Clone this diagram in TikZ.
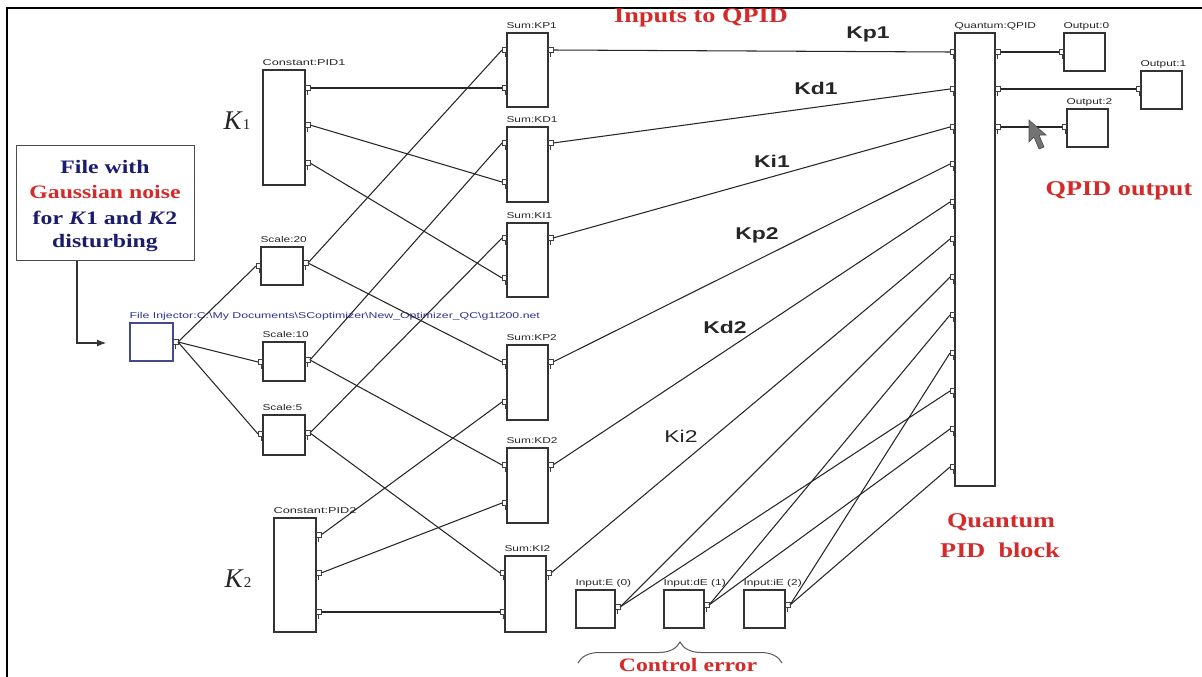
\documentclass[tikz,border=0pt]{standalone}
\usepackage{fontspec}
\setmainfont{Liberation Serif}
\setsansfont{Liberation Sans}
\usetikzlibrary{fit,decorations.pathreplacing,arrows.meta}
\definecolor{redtxt}{HTML}{D42A2A}
\definecolor{navytxt}{HTML}{1C1C6E}
\definecolor{injblue}{HTML}{2B3590}
\newcommand\sx[2][1.3]{\scalebox{#1}[1]{#2}}
\newcommand\smallfont{\sffamily\fontsize{8.5}{9}\selectfont}
\newcommand\pinin[1]{\draw[pinst] (#1) ++(5,-2.5) -- ++(-5,0) -- ++(0,5) -- ++(5,0); \draw[pinst] (#1) ++(3,3) -- ++(0,4);}
\newcommand\pinout[1]{\draw[pinst] (#1) ++(-5,-2.5) -- ++(5,0) -- ++(0,5) -- ++(-5,0); \draw[pinst] (#1) ++(-3,3) -- ++(0,4);}
\begin{document}
\begin{tikzpicture}[x=1pt,y=-1pt,
  blk/.style={draw=black!80, line width=1.3pt, fill=white, inner sep=0pt},
  wire/.style={black!85, line width=1.05pt},
  pinst/.style={black!75, line width=0.9pt},
  lbl/.style={font=\smallfont, inner sep=0pt, anchor=base west, text=black!85},
  bigred/.style={font=\bfseries\fontsize{21}{24}\selectfont, text=redtxt, inner sep=0pt},
  navy/.style={font=\bfseries\fontsize{19}{22}\selectfont, text=navytxt, inner sep=0pt},
  kl/.style={font=\sffamily\bfseries\fontsize{17}{20}\selectfont, text=black!85, inner sep=0pt},
  kk/.style={font=\fontsize{27}{28}\selectfont, text=black!85, inner sep=0pt}]
\useasboundingbox (0,0) rectangle (1202,677);
\fill[white] (0,0) rectangle (1202,677);
% frame
\draw[line width=2pt] (7,677) -- (7,8) -- (1202,8);

% noise file box
\node[draw=black!70, line width=1pt, fill=white, inner sep=0pt, fit={(16,145) (194,260)}] (noise) {};
\node[navy] (nt1) at (105,167) {\sx[1.25]{File with}};
\node[bigred, font=\bfseries\fontsize{19}{22}\selectfont] (nt2) at (105,192) {\sx[1.25]{Gaussian noise}};
\node[navy] (nt3) at (105,218) {\sx[1.25]{for \textit{K}1 and \textit{K}2}};
\node[navy] (nt4) at (105,243) {\sx[1.25]{disturbing}};
\coordinate (arrEnd) at (106,343);
\draw[black!80, line width=1.1pt, -{Latex[length=9pt,width=7pt]}] ([xshift=-28pt]noise.south) |- (arrEnd);

% blocks
\node[draw=injblue!70!gray, line width=1.1pt, fill=white, inner sep=0pt, fit={(130,323) (173,361)}] (inj) {};
\node[blk, fit={(263,70) (305,185)}] (cpid1) {};
\node[blk, fit={(261,247) (303,285)}] (sc20) {};
\node[blk, fit={(263,342) (305,381)}] (sc10) {};
\node[blk, fit={(263,415) (305,455)}] (sc5) {};
\node[blk, fit={(274,518) (316,632)}] (cpid2) {};
\node[blk, fit={(507,33) (548,107)}] (kp1) {};
\node[blk, fit={(507,127) (548,202)}] (kd1) {};
\node[blk, fit={(507,223) (548,297)}] (ki1) {};
\node[blk, fit={(507,345) (548,420)}] (kp2) {};
\node[blk, fit={(507,448) (548,523)}] (kd2) {};
\node[blk, fit={(505,556) (546,632)}] (ki2) {};
\node[blk, fit={(955,33) (995,486)}] (qpid) {};
\node[blk, fit={(1064,33) (1105,71)}] (out0) {};
\node[blk, fit={(1141,71) (1182,109)}] (out1) {};
\node[blk, fit={(1067,109) (1108,147)}] (out2) {};
\node[blk, fit={(576,590) (615,628)}] (ine) {};
\node[blk, fit={(664,590) (704,628)}] (inde) {};
\node[blk, fit={(744,590) (785,628)}] (inie) {};

% block labels
\node[lbl, text=injblue] (linj) at ([yshift=4pt]inj.north west) {\sx[1.45]{File Injector:C:\textbackslash My Documents\textbackslash SCoptimizer\textbackslash New\_Optimizer\_QC\textbackslash g1t200.net}};
\node[lbl] (lc1) at ([yshift=4pt]cpid1.north west) {\sx[1.5]{Constant:PID1}};
\node[lbl] (ls20) at ([yshift=4pt]sc20.north west) {\sx[1.4]{Scale:20}};
\node[lbl] (ls10) at ([yshift=4pt]sc10.north west) {\sx[1.4]{Scale:10}};
\node[lbl] (ls5) at ([yshift=4pt]sc5.north west) {\sx[1.4]{Scale:5}};
\node[lbl] (lc2) at ([yshift=4pt]cpid2.north west) {\sx[1.5]{Constant:PID2}};
\node[lbl] (lkp1) at ([yshift=4pt]kp1.north west) {\sx[1.4]{Sum:KP1}};
\node[lbl] (lkd1) at ([yshift=4pt]kd1.north west) {\sx[1.4]{Sum:KD1}};
\node[lbl] (lki1) at ([yshift=4pt]ki1.north west) {\sx[1.4]{Sum:KI1}};
\node[lbl] (lkp2) at ([yshift=4pt]kp2.north west) {\sx[1.4]{Sum:KP2}};
\node[lbl] (lkd2) at ([yshift=4pt]kd2.north west) {\sx[1.4]{Sum:KD2}};
\node[lbl] (lki2) at ([yshift=4pt]ki2.north west) {\sx[1.4]{Sum:KI2}};
\node[lbl] (lq) at ([yshift=4pt]qpid.north west) {\sx[1.4]{Quantum:QPID}};
\node[lbl] (lo0) at ([yshift=4pt]out0.north west) {\sx[1.4]{Output:0}};
\node[lbl] (lo1) at ([yshift=4pt]out1.north west) {\sx[1.4]{Output:1}};
\node[lbl] (lo2) at ([yshift=4pt]out2.north west) {\sx[1.4]{Output:2}};
\node[lbl] (lie) at ([yshift=4pt]ine.north west) {\sx[1.4]{Input:E (0)}};
\node[lbl] (lide) at ([yshift=4pt]inde.north west) {\sx[1.4]{Input:dE (1)}};
\node[lbl] (liie) at ([yshift=4pt]inie.north west) {\sx[1.4]{Input:iE (2)}};

% ports
\coordinate (injO) at (178,342);
\coordinate (s20I) at (256,266); \coordinate (s20O) at (308,263);
\coordinate (s10I) at (258,362); \coordinate (s10O) at (310,360);
\coordinate (s5I) at (258,434);  \coordinate (s5O) at (310,433);
\coordinate (c1a) at (310,88); \coordinate (c1b) at (310,125); \coordinate (c1c) at (310,163);
\coordinate (c2a) at (321,535); \coordinate (c2b) at (321,573); \coordinate (c2c) at (321,612);
\coordinate (kp1a) at (502,50);  \coordinate (kp1b) at (502,88);  \coordinate (kp1o) at (553,50);
\coordinate (kd1a) at (502,143); \coordinate (kd1b) at (502,182); \coordinate (kd1o) at (553,143);
\coordinate (ki1a) at (502,238); \coordinate (ki1b) at (502,278); \coordinate (ki1o) at (553,238);
\coordinate (kp2a) at (502,362); \coordinate (kp2b) at (502,402); \coordinate (kp2o) at (553,362);
\coordinate (kd2a) at (502,465); \coordinate (kd2b) at (502,503); \coordinate (kd2o) at (553,465);
\coordinate (ki2a) at (500,573); \coordinate (ki2b) at (500,612); \coordinate (ki2o) at (551,573);
\foreach \i/\y in {1/52,2/89,3/127,4/164,5/202,6/239,7/277,8/315,9/353,10/391,11/429,12/467}
  {\coordinate (q\i) at (950,\y);}
\coordinate (qo1) at (1000,52); \coordinate (qo2) at (1000,89); \coordinate (qo3) at (1000,127);
\coordinate (o0I) at (1059,52); \coordinate (o1I) at (1136,89); \coordinate (o2I) at (1062,127);
\coordinate (ieO) at (620,607); \coordinate (ideO) at (709,605); \coordinate (iieO) at (790,605);

% wires
\draw[wire] (injO) -- (s20I);
\draw[wire] (injO) -- (s10I);
\draw[wire] (injO) -- (s5I);
\draw[wire] (s20O) -- (kp1a);
\draw[wire] (s20O) -- (kp2a);
\draw[wire] (s10O) -- (kd1a);
\draw[wire] (s10O) -- (kd2a);
\draw[wire] (s5O) -- (ki1a);
\draw[wire] (s5O) -- (ki2a);
\draw[wire] (c1a) -- (kp1b);
\draw[wire] (c1b) -- (kd1b);
\draw[wire] (c1c) -- (ki1b);
\draw[wire] (c2a) -- (kp2b);
\draw[wire] (c2b) -- (kd2b);
\draw[wire] (c2c) -- (ki2b);
\draw[wire] (kp1o) -- (q1);
\draw[wire] (kd1o) -- (q2);
\draw[wire] (ki1o) -- (q3);
\draw[wire] (kp2o) -- (q4);
\draw[wire] (kd2o) -- (q5);
\draw[wire] (ki2o) -- (q6);
\draw[wire] (ieO) -- (q7);
\draw[wire] (ieO) -- (q10);
\draw[wire] (ideO) -- (q8);
\draw[wire] (ideO) -- (q11);
\draw[wire] (iieO) -- (q9);
\draw[wire] (iieO) -- (q12);
\draw[wire] (qo1) -- (o0I);
\draw[wire] (qo2) -- (o1I);
\draw[wire] (qo3) -- (o2I);

% pins
\foreach \p in {s20I,s10I,s5I,kp1a,kp1b,kd1a,kd1b,ki1a,ki1b,kp2a,kp2b,kd2a,kd2b,ki2a,ki2b,o0I,o1I,o2I,q1,q2,q3,q4,q5,q6,q7,q8,q9,q10,q11,q12}
  {\pinin{\p}}
\foreach \p in {injO,s20O,s10O,s5O,c1a,c1b,c1c,c2a,c2b,c2c,kp1o,kd1o,ki1o,kp2o,kd2o,ki2o,qo1,qo2,qo3,ieO,ideO,iieO}
  {\pinout{\p}}

% gain labels
\node[kl] (tkp1) at (868,34) {\sx[1.35]{Kp1}};
\node[kl] (tkd1) at (816,88) {\sx[1.35]{Kd1}};
\node[kl] (tki1) at (772,161) {\sx[1.35]{Ki1}};
\node[kl] (tkp2) at (757,235) {\sx[1.35]{Kp2}};
\node[kl] (tkd2) at (725,327) {\sx[1.35]{Kd2}};
\node[kl, font=\sffamily\fontsize{17}{20}\selectfont] (tki2) at (681,436) {\sx[1.35]{Ki2}};

% K1 K2
\node[kk] (k1) at (237,121) {\textit{K}{\fontsize{15}{16}\selectfont 1}};
\node[kk] (k2) at (238,579) {\textit{K}{\fontsize{15}{16}\selectfont 2}};

% red captions
\node[bigred] (tin) at (701,18) {\sx[1.25]{Inputs to QPID}};
\node[bigred] (tout) at (1119,191) {\sx[1.25]{QPID output}};
\node[bigred] (tq1) at (1001,522) {\sx[1.25]{Quantum}};
\node[bigred] (tq2) at (1000,550) {\sx[1.25]{PID\ \ block}};
\node[bigred, font=\bfseries\fontsize{19}{22}\selectfont] (tce) at (688,665) {\sx[1.25]{Control error}};

% brace
\coordinate (brL) at (578,663);
\coordinate (brR) at (782,663);
\draw[black!65, line width=1pt, decorate, decoration={brace, amplitude=21pt, aspect=0.5}] (brL) -- (brR);

% mouse cursor
\filldraw[fill=black!55, draw=black!70, line width=0.6pt]
  (1029,120) -- (1029,142) -- (1034,137) -- (1039,149) -- (1044,147) -- (1039,135) -- (1046,135) -- cycle;
\end{tikzpicture}
\end{document}
